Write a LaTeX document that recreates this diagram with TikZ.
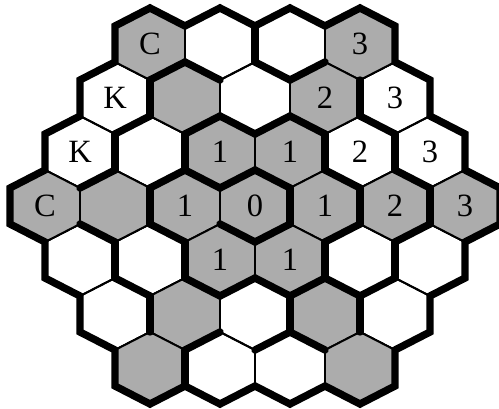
\documentclass[tikz,border=0pt]{standalone}
\usepackage{fontspec}
\setmainfont{Liberation Serif}
\definecolor{combgray}{RGB}{172, 172, 172}
\tikzset{%
	cellline/.style={%
			draw,%
			line width=1.1pt},%
	combfill/.style={%
			fill=combgray},%
	wallline/.style={%
			line width=4.2pt,%
			line cap=round,%
			line join=miter},%
	celltext/.style={%
			font={\fontsize{18.5}{20}\selectfont},%
			inner sep=0pt},%
	hexcell/.pic={%
			\coordinate (-c) at (0,0);
			\coordinate (-t) at (0,-36);
			\coordinate (-tr) at (35,-18);
			\coordinate (-br) at (35,18);
			\coordinate (-b) at (0,36);
			\coordinate (-bl) at (-35,18);
			\coordinate (-tl) at (-35,-18);
			\path[pic actions] (-t) -- (-tr) -- (-br) -- (-b) -- (-bl) -- (-tl) -- cycle;},%
}

\begin{document}
\begin{tikzpicture}[x=0.02cm, y=-0.02cm]
	\useasboundingbox (0,0) rectangle (499,408);

	\foreach \r/\n/\xa/\ya in {a/3/150/44, b/4/115/98, c/5/80/152, d/6/45/206, e/5/80/260, f/4/115/314, g/3/150/368}
		\foreach \k in {0,...,\n}
			\pic[cellline] (\r\k) at ({\xa+70*\k},\ya) {hexcell};

	\foreach \cell in {a0,a3,b1,b3,c2,c3,d0,d1,d2,d3,d4,d5,d6,e2,e3,f1,f3,g0,g3}
		\path[cellline, combfill] (\cell-t) -- (\cell-tr) -- (\cell-br) -- (\cell-b) -- (\cell-bl) -- (\cell-tl) -- cycle;

	\foreach \cell/\txt in {a0/C, a3/3, b0/K, b3/2, b4/3, c0/K, c2/1, c3/1, c4/2, c5/3, d0/C, d2/1, d3/0, d4/1, d5/2, d6/3, e2/1, e3/1}
		\node[celltext] (\cell-txt) at (\cell-c) {\txt};

	\foreach \cell/\p/\q in {a1/tr/br, a0/br/b, a1/b/bl, a2/b/bl, a2/br/b,
			b0/tr/br, b3/tr/br, b0/br/b, b1/br/b, b2/b/bl, b2/br/b, b3/b/bl, b4/b/bl,
			c0/tr/br, c1/tr/br, c3/tr/br, c4/tr/br, c0/br/b, c1/br/b, c2/b/bl, c2/br/b, c3/b/bl, c4/b/bl, c5/b/bl,
			d1/tr/br, d3/tr/br, d4/tr/br, d5/tr/br, d1/b/bl, d2/b/bl, d3/b/bl, d3/br/b, d4/br/b, d5/br/b,
			e0/tr/br, e1/tr/br, e3/tr/br, e4/tr/br, e1/b/bl, e2/b/bl, e2/br/b, e3/b/bl, e3/br/b, e4/b/bl, e4/br/b,
			f0/tr/br, f2/tr/br, f3/tr/br, f1/br/b, f2/br/b, f3/b/bl, g0/tr/br}
		\draw[wallline] (\cell-\p) -- (\cell-\q);

	\draw[wallline] (a0-tl) -- (a0-t) -- (a0-tr) -- (a1-t) -- (a1-tr) -- (a2-t) -- (a2-tr) -- (a3-t) -- (a3-tr) -- (b4-t) -- (b4-tr) -- (b4-br) -- (c5-tr) -- (c5-br) -- (d6-tr) -- (d6-br) -- (d6-b)
		-- (e5-br) -- (e5-b) -- (f4-br) -- (f4-b) -- (g3-br) -- (g3-b) -- (g3-bl) -- (g2-b) -- (g2-bl) -- (g1-b) -- (g1-bl) -- (g0-b) -- (g0-bl) -- (g0-tl)
		-- (f0-bl) -- (f0-tl) -- (e0-bl) -- (e0-tl) -- (d0-bl) -- (d0-tl) -- (d0-t) -- (c0-tl) -- (c0-t) -- (b0-tl) -- (b0-t) -- cycle;
\end{tikzpicture}
\end{document}
